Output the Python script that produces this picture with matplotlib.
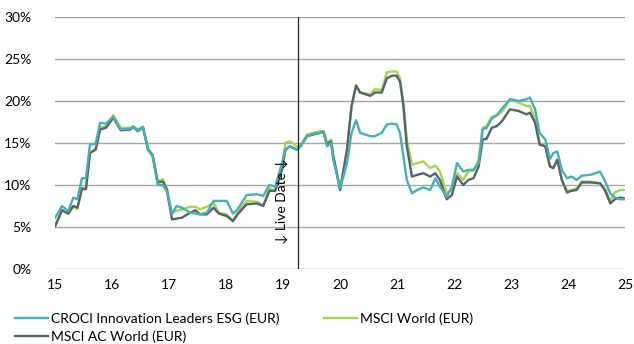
import numpy as np
import matplotlib.pyplot as plt

plt.rcParams['font.family'] = ['Lato', 'DejaVu Sans']

# Rolling volatility, x axis in years (15 = 2015)
years = [
    15.00, 15.12, 15.23, 15.32, 15.39, 15.47, 15.54, 15.61, 15.71, 15.79,
    15.89, 16.02, 16.15, 16.32, 16.37, 16.45, 16.54, 16.63, 16.71, 16.80,
    16.89, 16.96, 17.05, 17.13, 17.22, 17.37, 17.46, 17.54, 17.66, 17.78,
    17.87, 18.01, 18.12, 18.20, 18.36, 18.54, 18.65, 18.76, 18.86, 18.98,
    19.04, 19.12, 19.24,
    19.30, 19.42, 19.53, 19.65, 19.71, 19.77, 19.84, 19.88, 20.00, 20.12,
    20.20, 20.28, 20.35, 20.53, 20.61, 20.73, 20.82, 20.91, 20.99, 21.05,
    21.11, 21.17, 21.26, 21.35, 21.46, 21.58, 21.67, 21.75, 21.87, 21.96,
    22.05, 22.16, 22.25, 22.34, 22.43, 22.50, 22.57, 22.66, 22.75, 22.84,
    22.98, 23.13, 23.27, 23.33, 23.42, 23.50, 23.60, 23.68, 23.74, 23.81,
    23.89, 23.98, 24.06, 24.15, 24.24, 24.39, 24.56, 24.65, 24.74, 24.82,
    24.91, 25.00,
]

croci = [
    6.1, 7.5, 6.9, 8.5, 8.3, 10.8, 10.8, 14.8, 14.9, 17.4,
    17.3, 18.1, 16.6, 16.7, 16.9, 16.5, 16.9, 14.2, 13.4, 10.0,
    10.0, 9.2, 6.5, 7.5, 7.3, 6.7, 6.6, 6.5, 6.7, 8.1,
    8.1, 8.1, 6.6, 7.1, 8.8, 8.9, 8.7, 10.0, 9.8, 12.6,
    14.2, 14.6, 14.2,
    14.6, 15.8, 16.1, 16.2, 16.2, 14.6, 15.0, 13.0, 9.6, 12.6,
    16.2, 17.7, 16.2, 15.8, 15.8, 16.2, 17.2, 17.3, 17.2, 16.2,
    13.4, 10.6, 9.0, 9.4, 9.7, 9.4, 10.8, 9.8, 8.6, 9.8,
    12.6, 11.6, 11.8, 11.8, 12.6, 16.6, 16.8, 17.9, 18.3, 19.1,
    20.2, 20.0, 20.2, 20.4, 19.0, 16.2, 15.4, 13.1, 13.8, 14.0,
    11.8, 10.8, 11.0, 10.6, 11.1, 11.2, 11.6, 10.4, 9.0, 8.5,
    8.3, 8.3,
]

msci_world = [
    5.1, 7.0, 6.5, 7.5, 7.1, 9.5, 9.5, 13.8, 14.3, 16.8,
    17.0, 18.3, 16.8, 16.8, 17.0, 16.6, 16.9, 14.3, 13.6, 10.4,
    10.7, 9.6, 6.7, 6.9, 7.1, 7.4, 7.4, 7.1, 7.4, 7.9,
    6.7, 6.5, 5.7, 6.7, 8.1, 8.0, 7.5, 9.6, 9.3, 12.2,
    15.0, 15.2, 14.6,
    14.6, 16.0, 16.2, 16.4, 16.4, 15.0, 15.4, 13.6, 9.5, 14.2,
    19.4, 21.9, 21.0, 20.8, 21.4, 21.3, 23.4, 23.5, 23.5, 22.7,
    19.8, 15.4, 12.4, 12.6, 12.8, 12.0, 12.3, 11.6, 9.0, 9.4,
    11.4, 10.6, 11.6, 11.7, 13.0, 16.8, 17.0, 18.1, 18.3, 18.7,
    20.2, 19.8, 19.4, 19.4, 17.8, 15.0, 14.6, 12.3, 12.0, 13.0,
    10.6, 9.3, 9.4, 9.6, 10.4, 10.4, 10.2, 9.5, 8.1, 9.1,
    9.4, 9.4,
]

msci_acwi = [
    5.1, 7.0, 6.6, 7.5, 7.3, 9.6, 9.5, 13.8, 14.2, 16.6,
    16.8, 18.0, 16.5, 16.6, 16.9, 16.4, 16.9, 14.2, 13.5, 10.3,
    10.4, 9.4, 5.9, 6.0, 6.1, 6.7, 7.0, 6.5, 6.5, 7.3,
    6.6, 6.3, 5.7, 6.5, 7.7, 7.8, 7.5, 9.3, 9.3, 11.8,
    14.2, 14.6, 14.2,
    14.6, 15.8, 16.0, 16.2, 16.3, 14.8, 15.2, 13.4, 9.4, 14.2,
    19.4, 21.8, 21.0, 20.6, 21.0, 21.0, 22.7, 23.0, 23.0, 22.3,
    19.4, 14.6, 11.0, 11.2, 11.4, 11.0, 11.4, 10.6, 8.3, 8.8,
    11.0, 10.0, 10.6, 10.8, 12.2, 15.4, 15.5, 16.8, 17.0, 17.6,
    19.0, 18.8, 18.4, 18.6, 17.4, 14.8, 14.6, 12.2, 12.0, 13.0,
    10.6, 9.1, 9.3, 9.4, 10.3, 10.3, 10.2, 9.3, 7.8, 8.3,
    8.5, 8.4,
]

live_date = 19.26
x_ticks = list(range(15, 26))
y_ticks = [0, 5, 10, 15, 20, 25, 30]

fig = plt.figure(figsize=(6.34, 3.44), dpi=100)
ax = fig.add_axes([0.087, 0.218, 0.899, 0.733])

l_croci, = ax.plot(years, croci, color='#45b0b6', lw=1.7, zorder=3,
                   label='CROCI Innovation Leaders ESG (EUR)')
l_world, = ax.plot(years, msci_world, color='#a6d64c', lw=1.7, zorder=2,
                   label='MSCI World (EUR)')
l_acwi, = ax.plot(years, msci_acwi, color='#55636d', lw=1.7, zorder=2.5,
                  label='MSCI AC World (EUR)')

ax.axvline(live_date, color='#202020', lw=0.9, zorder=4)
ax.annotate('\u2193 Live Date \u2193', xy=(live_date, 8.1), xytext=(-7, 0),
            textcoords='offset points', rotation=90, ha='right', va='center',
            fontsize=10, color='black')

ax.set_xlim(15, 25)
ax.set_ylim(0, 30)
ax.set_xticks(x_ticks)
ax.set_yticks(y_ticks)
ax.set_yticklabels([f'{v}%' for v in y_ticks])
ax.tick_params(axis='both', length=0, labelsize=10, colors='black')
ax.tick_params(axis='y', pad=17)
ax.tick_params(axis='x', pad=7)
ax.grid(axis='y', color='#a6a6a6', lw=1)
ax.set_axisbelow(True)
for side in ['top', 'right', 'left', 'bottom']:
    ax.spines[side].set_visible(False)

# legend fills column by column: CROCI / AC World in the first, World in the second
fig.legend(handles=[l_croci, l_acwi, l_world], loc='lower left',
           bbox_to_anchor=(0.01, -0.02), ncol=2, frameon=False,
           fontsize=10, handlelength=2.4, handletextpad=0.2, columnspacing=3.2,
           labelspacing=0.35, borderaxespad=0.2)

fig.savefig('out.png', dpi=100)
